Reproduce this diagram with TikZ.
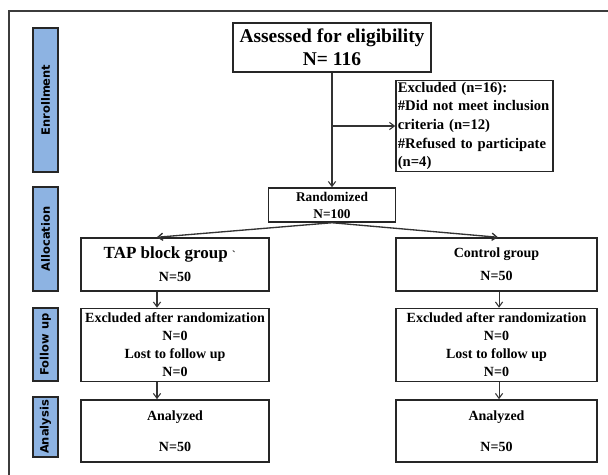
\documentclass[tikz,border=0pt]{standalone}
\usepackage{fontspec}
\setmainfont{Liberation Serif}
\newfontfamily\phasefont{DejaVu Sans}
\usetikzlibrary{arrows.meta, positioning, calc}
\definecolor{phaseblue}{RGB}{141,179,226}
\definecolor{framegray}{RGB}{60,60,60}

\begin{document}
\begin{tikzpicture}[x=0.75pt, y=-0.75pt,
   box/.style={rectangle, draw=black!85, line width=1.1pt, fill=white, align=center,
               inner sep=1pt, font=\fontsize{10.5}{13.5}\selectfont\bfseries},
   phase/.style={rectangle, draw=black!85, line width=0.9pt, fill=phaseblue,
                 minimum height=18.75pt, inner sep=0pt, rotate=90,
                 font=\phasefont\fontsize{8.6}{9}\selectfont\bfseries},
   arr/.style={draw=black!80, line width=0.8pt, -{Straight Barb[length=1.3mm, width=1.9mm]}}]
  \useasboundingbox (0,0) rectangle (608,475);
  \draw[framegray, line width=1.1pt] (9,475) -- (9,11) -- (608,11);

  % phase labels
  \node[phase, minimum width=108pt] (enr) at (45.5,100) {Enrollment};
  \node[phase, minimum width=78pt] (alloc) at (45.5,239) {Allocation};
  \node[phase, minimum width=54.75pt] (fol) at (45.5,344.5) {Follow up};
  \node[phase, minimum width=45pt] (ana) at (45.5,427) {Analysis};

  % flow boxes
  \node[box, line width=1.6pt, minimum width=148.5pt, minimum height=36.75pt,
        font=\fontsize{14.6}{17.25}\selectfont\bfseries] (assess) at (332,47.5)
        {Assessed for eligibility\\N= 116};
  \node[box, align=left, text width=115pt, minimum width=117.75pt, minimum height=67.5pt,
        font=\fontsize{11}{14}\selectfont\bfseries] (excl) at (474.5,126)
        {Excluded (n=16):\\\#Did not meet inclusion\\criteria (n=12)\\\#Refused to participate\\(n=4)};
  \node[box, minimum width=95.25pt, minimum height=25.5pt,
        font=\fontsize{10}{12.75}\selectfont\bfseries] (rand) at (332,205) {Randomized\\N=100};

  \node[box, minimum width=141pt, minimum height=39.75pt,
        font=\fontsize{10.5}{17.25}\selectfont\bfseries] (tap) at (175,264.5)
        {{\fontsize{12.75}{15}\selectfont TAP block group {\fontsize{8}{8}\selectfont\textasciigrave}}\hspace*{8pt}\\N=50};
  \node[box, minimum width=150.75pt, minimum height=39.75pt,
        font=\fontsize{10.5}{17.25}\selectfont\bfseries] (ctrl) at (496.5,264.5)
        {Control group\\N=50};

  \node[box, below=12pt of tap, minimum width=141pt, minimum height=54.75pt] (fu1)
        {Excluded after randomization\\N=0\\Lost to follow up\\N=0};
  \node[box, below=12pt of ctrl, minimum width=150.75pt, minimum height=54.75pt] (fu2)
        {Excluded after randomization\\N=0\\Lost to follow up\\N=0};

  \node[box, below=12.75pt of fu1, minimum width=141pt, minimum height=46.5pt,
        font=\fontsize{10.5}{23.25}\selectfont\bfseries] (an1) {Analyzed\\N=50};
  \node[box, below=12.75pt of fu2, minimum width=150.75pt, minimum height=46.5pt,
        font=\fontsize{10.5}{23.25}\selectfont\bfseries] (an2) {Analyzed\\N=50};

  % connectors
  \draw[arr] (assess.south) -- (rand.north);
  \draw[arr] (assess.south |- excl.west) -- (excl.west);
  \draw[arr, line width=1pt] (rand.south) -- ($(tap.north west)!0.404!(tap.north east)$);
  \draw[arr, line width=1pt] (rand.south) -- ([xshift=1.1pt]ctrl.north);
  \draw[arr] ([xshift=-13.5pt]tap.south) -- ([xshift=-13.5pt]fu1.north);
  \draw[arr] ([xshift=-13.5pt]fu1.south) -- ([xshift=-13.5pt]an1.north);
  \draw[arr] ([xshift=1.9pt]ctrl.south) -- ([xshift=1.9pt]fu2.north);
  \draw[arr] ([xshift=1.9pt]fu2.south) -- ([xshift=1.9pt]an2.north);
\end{tikzpicture}
\end{document}
